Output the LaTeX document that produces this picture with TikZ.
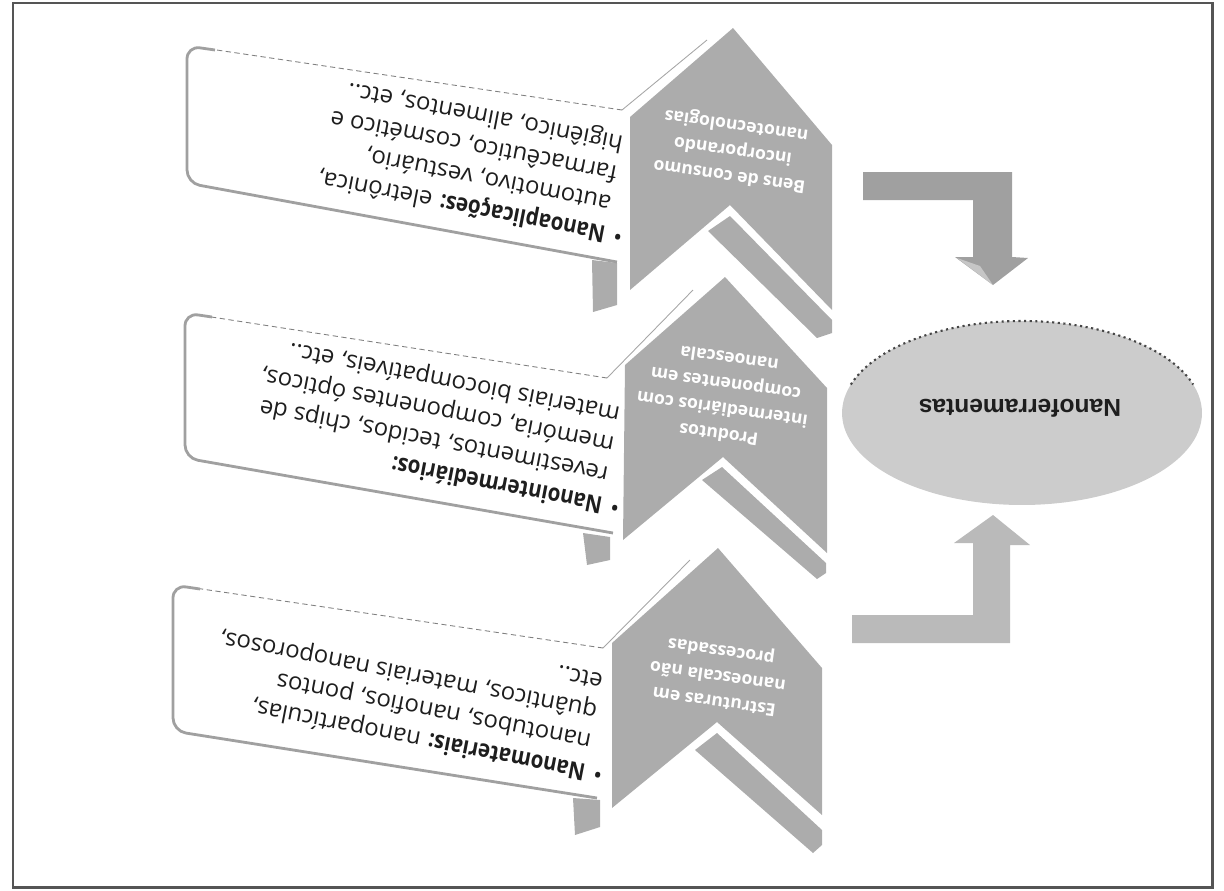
\documentclass[tikz,border=0pt]{standalone}
\usepackage{fontspec}
\setmainfont{Open Sans}
\newfontfamily\headfont{Open Sans}[FakeStretch=0.86]
\newfontfamily\ellfont{Liberation Sans}
\usetikzlibrary{shapes.geometric}
\definecolor{chev}{RGB}{172,172,172}
\definecolor{ellfill}{RGB}{204,204,204}
\definecolor{arrA}{RGB}{160,160,160}
\definecolor{arrB}{RGB}{186,186,186}
\definecolor{framec}{RGB}{85,85,85}
\definecolor{edgec}{RGB}{160,160,160}
\definecolor{txt}{RGB}{30,30,30}
\newcommand{\hd}[1]{{\headfont\bfseries #1}}
\tikzset{
  boxside/.style={draw=edgec, line width=1.6pt, rounded corners=2.6mm},
  boxtop/.style={draw=gray, line width=0.5pt, dash pattern=on 3pt off 2pt},
  persp/.style={draw=gray!70, line width=0.5pt},
  boxtext/.style={rotate=169, inner sep=0pt, text=txt, font=\fontsize{13.6}{17.4}\selectfont},
  chevtext/.style={rotate=172, inner sep=0pt, text=white, align=center, font=\bfseries\fontsize{10}{14.5}\selectfont},
}
\begin{document}
\begin{tikzpicture}[x=0.02cm,y=-0.02cm]
\useasboundingbox (0,0) rectangle (1224,890);
\draw[framec, line width=1.7pt] (13,3) rectangle (1212,887);

% chevrons
\fill[chev] (733,28) -- (832,145) -- (832,310) -- (730,205) -- (630,290) -- (630,117) -- cycle;
\fill[chev] (708,231) -- (730,216) -- (832,320) -- (832,333) -- (817,338) -- cycle;
\fill[chev] (725,277) -- (827,388) -- (827,553) -- (723,457) -- (623,540) -- (625,365) -- cycle;
\fill[chev] (702,480) -- (722,467) -- (826,563) -- (826,573) -- (817,579) -- cycle;
\fill[chev] (718,548) -- (822,668) -- (822,815) -- (717,722) -- (612,808) -- (612,643) -- cycle;
\fill[chev] (695,750) -- (717,733) -- (822,830) -- (822,845) -- (813,853) -- cycle;

% callout tabs
\fill[chev] (592,260) -- (617,263) -- (617,305) -- (593,312) -- cycle;
\fill[chev] (583,533) -- (610,537) -- (610,560) -- (587,565) -- cycle;
\fill[chev] (573,798) -- (600,800) -- (600,827) -- (575,835) -- cycle;

% callout outlines
\draw[persp] (707,40) -- (622,110);
\draw[boxtop] (622,110) -- (210,49);
\draw[boxside] (215,50) -- (187,46) -- (187,183) -- (617,262);
\draw[persp] (693,290) -- (607,378);
\draw[boxtop] (607,378) -- (205,316);
\draw[boxside] (212,317) -- (185,313) -- (185,458) -- (613,533);
\draw[persp] (690,560) -- (603,648);
\draw[boxtop] (603,648) -- (195,588);
\draw[boxside] (200,589) -- (173,585) -- (173,731) -- (597,798);

% chevron texts
\node[chevtext] (c1) at (733,150) {Bens de consumo\\incorporando\\nanotecnologias};
\node[chevtext] (c2) at (724,397) {Produtos\\intermediários com\\componentes em\\nanoescala};
\node[chevtext] (c3) at (718,675) {Estruturas em\\nanoescala não\\processadas};

% callout texts
\node[boxtext, anchor=north west] (t1) at (620,251) {\begin{tabular}{@{}l@{\hspace{5pt}}l@{}}\textbullet & \hd{Nanoaplicações:} eletrônica,\\ & automotivo, vestuário,\\ & farmacêutico, cosmético e\\ & higiênico, alimentos, etc..\end{tabular}};
\node[boxtext, anchor=north west] (t2) at (617,522) {\begin{tabular}{@{}l@{\hspace{5pt}}l@{}}\textbullet & \hd{Nanointermediários:}\\ & revestimentos, tecidos, chips de\\ & memória, componentes ópticos,\\ & materiais biocompatíveis, etc..\end{tabular}};
\node[boxtext, anchor=north west] (t3) at (600,789) {\begin{tabular}{@{}l@{\hspace{5pt}}l@{}}\textbullet & \hd{Nanomateriais:} nanopartículas,\\ & nanotubos, nanofios, pontos\\ & quânticos, materiais nanoporosos,\\ & etc..\end{tabular}};

% ellipse
\node[ellipse, fill=ellfill, minimum width=7.2cm, minimum height=3.68cm, inner sep=0pt] (ell) at (1022,413) {};
\draw[gray!55!black, line width=1.2pt, dotted] (1022,413) ++(198:180 and 92) arc[start angle=198, end angle=342, x radius=180, y radius=92];
\node[rotate=180, text=txt, font=\ellfont\bfseries\fontsize{14}{16}\selectfont] (lab) at (1020,408) {Nanoferramentas};

% bent arrows
\fill[arrA] (863,172) -- (1012,172) -- (1012,257) -- (1028,258) -- (993,285) -- (955,257) -- (973,257) -- (973,200) -- (863,200) -- cycle;
\fill[arrA!60!white] (957,258) -- (993,285) -- (980,266) -- cycle;
\fill[arrB] (852,643) -- (1010,643) -- (1010,545) -- (1030,545) -- (993,515) -- (954,543) -- (973,543) -- (973,615) -- (852,615) -- cycle;
\end{tikzpicture}
\end{document}
